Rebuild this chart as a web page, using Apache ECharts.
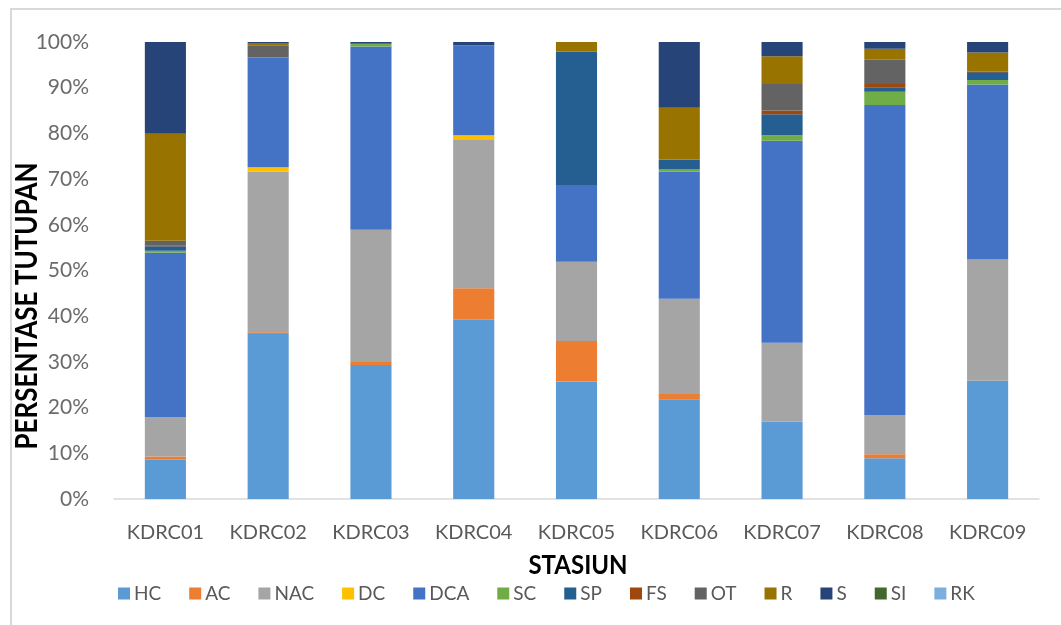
<!DOCTYPE html>
<html>
<head>
<meta charset="utf-8">
<script src="https://cdn.jsdelivr.net/npm/echarts@6/dist/echarts.min.js"></script>
<style>
html,body{margin:0;padding:0;background:#fff;}
#chart{width:1061px;height:625px;}
</style>
</head>
<body>
<div id="chart"></div>
<script>
// Stations along the x axis
const stations = ['KDRC01','KDRC02','KDRC03','KDRC04','KDRC05','KDRC06','KDRC07','KDRC08','KDRC09'];

// Percent cover per category at each station
const HC  = [8.6, 36.1, 29.3, 39.2, 25.7, 21.8, 16.9, 8.9, 25.9];
const AC  = [0.7, 0.4, 0.7, 6.9, 8.9, 1.2, 0, 0.9, 0];
const NAC = [8.6, 35.1, 28.9, 32.6, 17.3, 20.8, 17.3, 8.6, 26.5];
const DC  = [0, 1.0, 0, 0.9, 0, 0, 0, 0, 0];
const DCA = [36.0, 24.0, 40.1, 19.7, 16.8, 27.8, 44.2, 67.8, 38.3];
const SC  = [0.4, 0, 0.6, 0, 0, 0.5, 1.2, 2.9, 1.0];
const SP  = [1.0, 0, 0, 0, 29.2, 2.2, 4.6, 1.0, 1.5];
const FS  = [0.2, 0, 0, 0, 0, 0, 0.8, 0.7, 0];
const OT  = [1.0, 2.7, 0, 0, 0, 0, 5.8, 5.3, 0.3];
const R   = [23.4, 0.5, 0, 0, 2.1, 11.3, 6.1, 2.4, 4.2];
const S   = [20.1, 0.2, 0.4, 0.7, 0, 14.4, 3.1, 1.5, 2.3];
const SI  = [0, 0, 0, 0, 0, 0, 0, 0, 0];
const RK  = [0, 0, 0, 0, 0, 0, 0, 0, 0];

const seriesNames = ['HC','AC','NAC','DC','DCA','SC','SP','FS','OT','R','S','SI','RK'];
const seriesValues = [HC, AC, NAC, DC, DCA, SC, SP, FS, OT, R, S, SI, RK];
const seriesColors = ['#5B9BD5','#ED7D31','#A5A5A5','#FFC000','#4472C4','#70AD47',
                      '#255E91','#9E480E','#636363','#997300','#264478','#43682B','#7CAFDD'];

const yTitle = 'PERSENTASE TUTUPAN';
const xTitle = 'STASIUN';

const font = 'Lato, "Open Sans", sans-serif';

const chart = echarts.init(document.getElementById('chart'), null, {renderer:'canvas'});
chart.setOption({
  backgroundColor: '#fff',
  animation: false,
  color: seriesColors,
  graphic: [
    {
      type: 'rect',
      shape: {x: 11, y: 9, width: 1100, height: 700},
      style: {fill: 'none', stroke: '#d9d9d9', lineWidth: 2},
      silent: true, z: -1
    },
    {
      type: 'text',
      x: 27, y: 306,
      rotation: Math.PI / 2,
      scaleY: 1.15,
      style: {
        text: yTitle, fill: '#000', font: 'bold 26px ' + font,
        align: 'center', verticalAlign: 'middle'
      },
      silent: true
    },
    {
      type: 'text',
      x: 578, y: 565,
      scaleY: 1.12,
      style: {
        text: xTitle, fill: '#000', font: 'bold 24px ' + font,
        align: 'center', verticalAlign: 'middle'
      },
      silent: true
    }
  ],
  grid: {left: 114, right: 22, top: 42, bottom: 126},
  legend: {
    data: seriesNames,
    left: 113, top: 579,
    itemWidth: 12, itemHeight: 12, itemGap: 28,
    icon: 'rect',
    textStyle: {color: '#595959', fontSize: 19, fontFamily: font, padding: [0,0,0,-1]}
  },
  xAxis: {
    type: 'category',
    data: stations,
    axisLine: {lineStyle: {color: '#d9d9d9', width: 1.5}},
    axisTick: {show: false},
    axisLabel: {color: '#595959', fontSize: 20, fontFamily: font, margin: 24, interval: 0}
  },
  yAxis: {
    type: 'value',
    min: 0, max: 100, interval: 10,
    axisLine: {show: false},
    axisTick: {show: false},
    splitLine: {show: false},
    axisLabel: {color: '#6b6b6b', fontSize: 21, fontFamily: font, margin: 25,
                formatter: v => v + '%'}
  },
  series: seriesNames.map((n, i) => ({
    name: n,
    type: 'bar',
    stack: 'total',
    barWidth: '40%',
    data: seriesValues[i],
    itemStyle: {color: seriesColors[i]}
  }))
});
</script>
</body>
</html>
